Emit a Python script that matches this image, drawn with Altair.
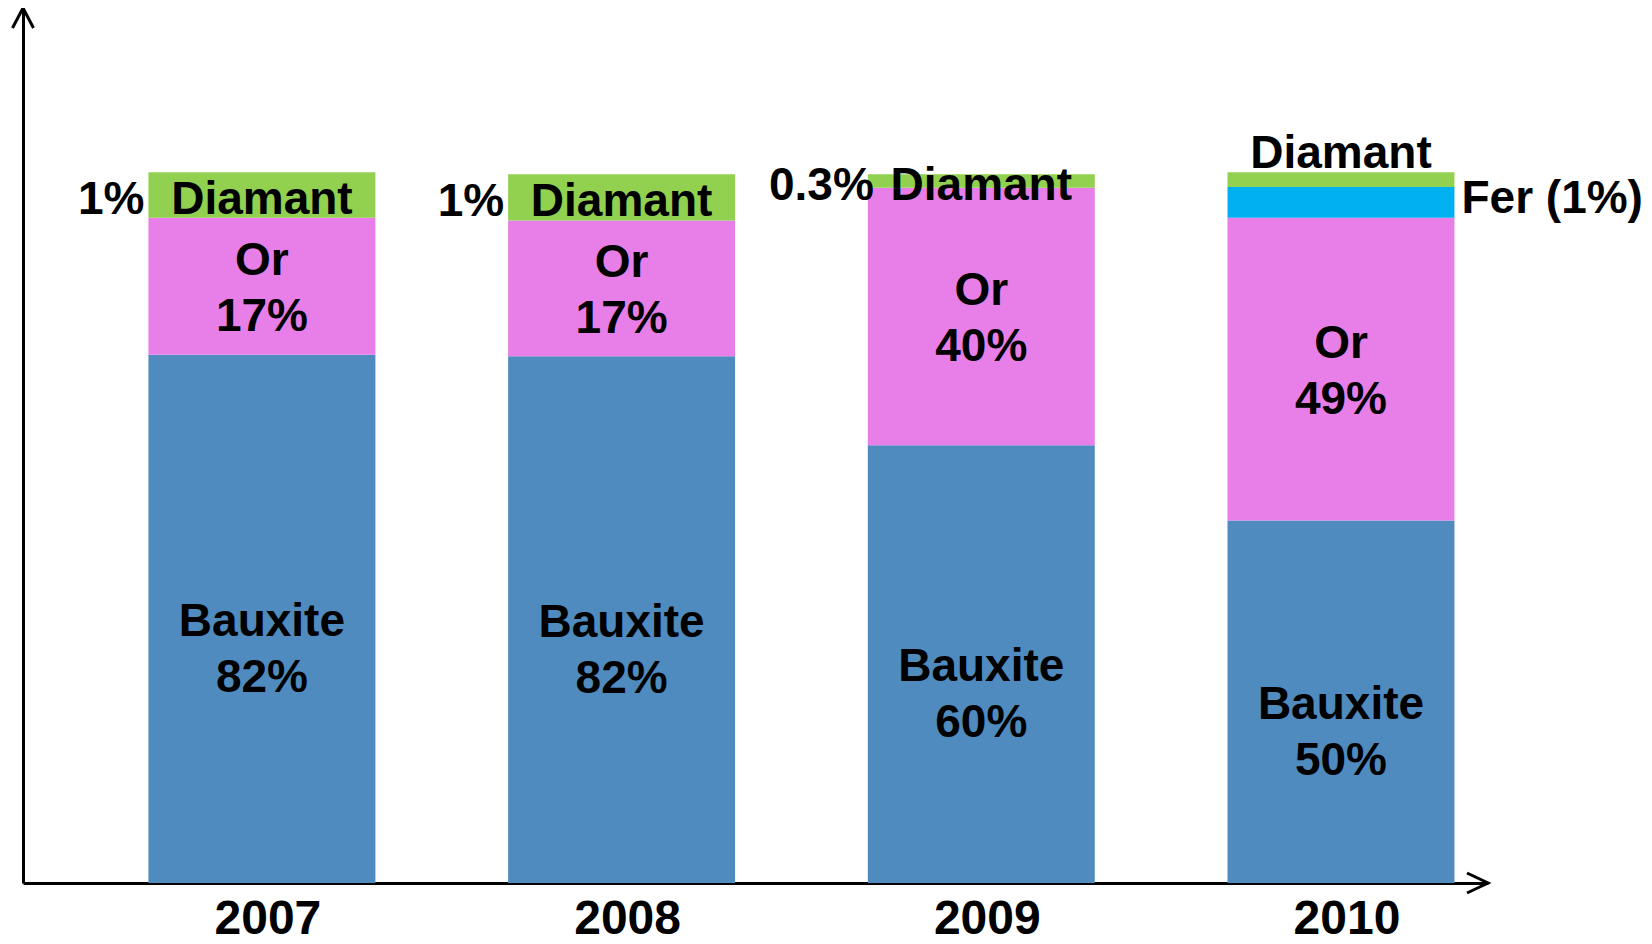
import altair as alt
import pandas as pd

# ---- data ----
years = ["2007", "2008", "2009", "2010"]
minerals = ["Bauxite", "Or", "Fer", "Diamant"]
# drawn segment heights (share of bar height as drawn in the picture)
bauxite_h = [74.3, 74.1, 61.6, 51.0]
or_h = [19.3, 19.1, 36.2, 42.6]
fer_h = [0.0, 0.0, 0.0, 4.3]
diamant_h = [6.4, 6.5, 1.9, 2.1]
# percentages written on the chart
bauxite_pct = ["82%", "82%", "60%", "50%"]
or_pct = ["17%", "17%", "40%", "49%"]
fer_pct = ["", "", "", "1%"]
diamant_pct = ["1%", "1%", "0.3%", ""]
colors = ["#4F8BBE", "#E87EE8", "#00B0F0", "#92D050"]

heights = {"Bauxite": bauxite_h, "Or": or_h, "Fer": fer_h, "Diamant": diamant_h}
pcts = {"Bauxite": bauxite_pct, "Or": or_pct, "Fer": fer_pct, "Diamant": diamant_pct}

rows = []
for i, yr in enumerate(years):
    start = 0.0
    for m in minerals:
        h = heights[m][i]
        if h > 0:
            p = pcts[m][i]
            rows.append(dict(year=yr, mineral=m, start=start, end=start + h,
                             mid=start + h / 2, pct=p,
                             inside=f"{m}\n{p}", side=f"{m} ({p})"))
        start += h
df = pd.DataFrame(rows)

FONT = dict(font="Liberation Sans", fontWeight="bold", fontSize=46, color="black")

xscale = alt.Scale(paddingInner=0.369, paddingOuter=0.221, align=0.789)
yscale = alt.Scale(domain=[0, 123.1], nice=False, zero=True)

xaxis = alt.Axis(title=None, labelAngle=0, labelFont="Liberation Sans", labelFontSize=48,
                 labelFontWeight="bold", labelColor="black", ticks=False, tickSize=0,
                 labelPadding=12, labelOffset=6, domain=True, domainColor="black",
                 domainWidth=3, grid=False)
yaxis = alt.Axis(title=None, labels=False, ticks=False, grid=False, domain=True,
                 domainColor="black", domainWidth=3)

base = alt.Chart(df)

bars = base.mark_bar(strokeWidth=0).encode(
    x=alt.X("year:N", scale=xscale, axis=xaxis, sort=years),
    y=alt.Y("start:Q", scale=yscale, axis=yaxis),
    y2="end:Q",
    color=alt.Color("mineral:N", scale=alt.Scale(domain=minerals, range=colors), legend=None),
)

bx_text = base.transform_filter(alt.datum.mineral == "Bauxite").mark_text(
    lineBreak="\n", lineHeight=56, dy=3, baseline="middle", align="center", **FONT
).encode(x=alt.X("year:N", sort=years), y="mid:Q", text="inside:N")

or_text = base.transform_filter(alt.datum.mineral == "Or").mark_text(
    lineBreak="\n", lineHeight=56, dy=-25.5, baseline="middle", align="center", **FONT
).encode(x=alt.X("year:N", sort=years), y="mid:Q", text="inside:N")

diam_in = base.transform_filter(
    (alt.datum.mineral == "Diamant") & (alt.datum.year != "2010")
).mark_text(dy=5, baseline="middle", align="center", **FONT).encode(
    x=alt.X("year:N", sort=years), y="mid:Q", text="mineral:N")

diam_pct = base.transform_filter(
    (alt.datum.mineral == "Diamant") & (alt.datum.pct != "") & (alt.datum.year != "2009")
).mark_text(dy=5, dx=-4, baseline="middle", align="right", **FONT).encode(
    x=alt.X("year:N", sort=years, bandPosition=0), y="mid:Q", text="pct:N")

diam_pct09 = base.transform_filter(
    (alt.datum.mineral == "Diamant") & (alt.datum.pct != "") & (alt.datum.year == "2009")
).mark_text(dy=5, dx=6, baseline="middle", align="right", **FONT).encode(
    x=alt.X("year:N", sort=years, bandPosition=0), y="mid:Q", text="pct:N")

diam_top = base.transform_filter(
    (alt.datum.mineral == "Diamant") & (alt.datum.year == "2010")
).mark_text(dy=-18.5, baseline="middle", align="center", **FONT).encode(
    x=alt.X("year:N", sort=years), y="end:Q", text="mineral:N")

fer_text = base.transform_filter(
    (alt.datum.mineral == "Fer") & (alt.datum.pct != "")
).mark_text(dy=-3, dx=7, baseline="middle", align="left", **FONT).encode(
    x=alt.X("year:N", sort=years, bandPosition=1), y="mid:Q", text="side:N")

one = alt.Chart(pd.DataFrame({"k": [0]}))
arrow_y = one.mark_point(shape="M-0.525,1L0,0L0.525,1", size=1600, filled=False,
                         stroke="black", strokeWidth=3, opacity=1).encode(
    x=alt.value(0), y=alt.value(0))
arrow_x = one.mark_point(shape="M-1,-0.476L0,0L-1,0.476", size=1764, filled=False,
                         stroke="black", strokeWidth=3, opacity=1).encode(
    x=alt.value(1465), y=alt.value(875))

chart = alt.layer(bars, bx_text, or_text, diam_in, diam_pct, diam_pct09, diam_top,
                  fer_text, arrow_y, arrow_x).properties(
    width=1465, height=875,
    autosize=alt.AutoSizeParams(type="none"),
    padding={"left": 15, "top": 0, "right": 156, "bottom": 61},
    background="white",
).configure_view(stroke=None)

chart.save("out.html", embed_options={"renderer": "svg", "actions": False})
